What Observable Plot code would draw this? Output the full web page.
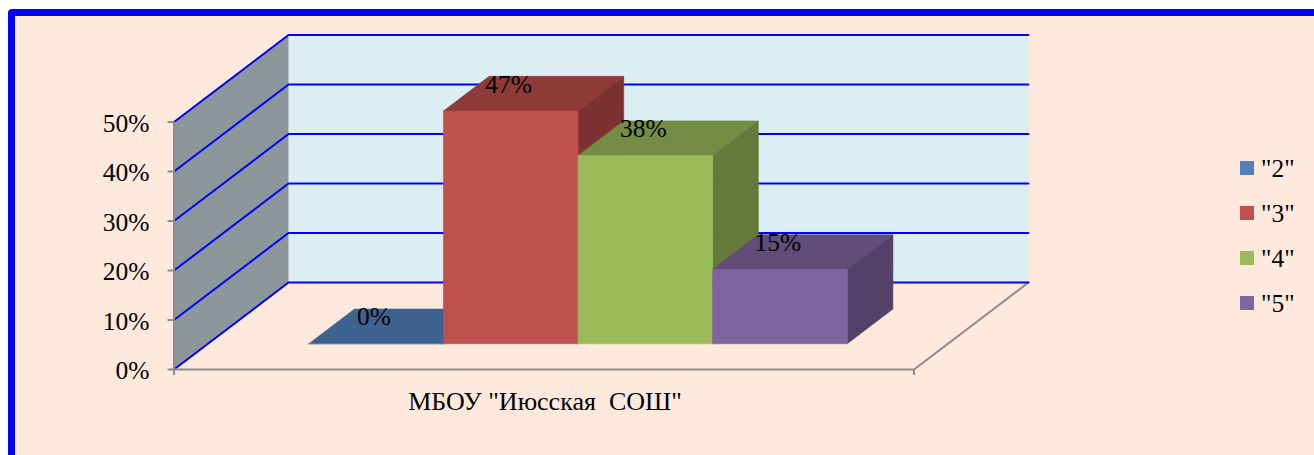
<!DOCTYPE html>
<html>
<head>
<meta charset="utf-8">
<script src="https://cdn.jsdelivr.net/npm/d3@7"></script>
<script src="https://cdn.jsdelivr.net/npm/@observablehq/plot@0.6"></script>
<style>
html,body{margin:0;padding:0;background:#fff;width:1314px;height:455px;overflow:hidden}
#frame{position:absolute;left:8px;top:9px;width:1400px;height:500px;box-sizing:border-box;border:7px solid #0000ff;border-radius:4px;background:#fee9dc}
#chart{position:absolute;left:0;top:0}
#legend{position:absolute;left:1240px;top:146px;font:25.5px "Liberation Serif",serif;color:#000}
#legend div{display:flex;align-items:center;height:45px}
#legend i{display:block;width:14px;height:14px;margin-right:7px;position:relative;top:-1px}
</style>
</head>
<body>
<div id="frame"></div>
<div id="chart"></div>
<div id="legend"></div>
<script>
const category = 'МБОУ "Июсская  СОШ"';
const series = ['"2"', '"3"', '"4"', '"5"'];
const values = [0, 47, 38, 15];
const labels = ["0%", "47%", "38%", "15%"];
const yTicks = [0, 10, 20, 30, 40, 50];
const frontColors = ["#4f81bd", "#c0504d", "#9bbb59", "#8064a2"];
const topColors = ["#3e638f", "#8e3a38", "#748c43", "#614c7a"];
const sideColors = ["#335273", "#7c3230", "#64793a", "#534169"];

// Oblique 3D projection, in data units of the x and y scales
const depthX = 0.1547, depthY = 17.58;
const barStart = 0.1364, barWidth = 0.1819, barFront = 0.296, barBack = 0.695, labelDepth = 0.305;
const project = (x, v, d) => ({x: x + d * depthX, y: v + d * depthY});
const poly = (group, color, pts) => pts.map(([x, v, d]) => ({...project(x, v, d), group, color}));

const wallBack = poly("back", "#dbeef4", [[0,0,1],[1,0,1],[1,50,1],[0,50,1],[0,0,1]]);
const wallSide = poly("side", "#8c979b", [[0,0,0],[0,0,1],[0,50,1],[0,50,0],[0,0,0]]);
const grid = yTicks.flatMap(t => poly("g" + t, "#0000ff", [[0,t,0],[0,t,1],[1,t,1]]));
const floorEdge = poly("edge", "#8c8c8c", [[1,0,0],[1,0,1]]);

const faces = values.flatMap((v, i) => {
  const a = barStart + i * barWidth, b = a + barWidth, f = barFront, k = barBack;
  return [
    ...poly("top" + i, topColors[i], [[a,v,f],[b,v,f],[b,v,k],[a,v,k],[a,v,f]]),
    ...poly("side" + i, sideColors[i], [[b,0,f],[b,0,k],[b,v,k],[b,v,f],[b,0,f]]),
    ...poly("front" + i, frontColors[i], [[a,0,f],[b,0,f],[b,v,f],[a,v,f],[a,0,f]])
  ];
});
const labelRows = values.map((v, i) => {
  const p = project(barStart + (i + 0.5) * barWidth, v, barFront);
  return {x: p.x, y: p.y + labelDepth * depthY, text: labels[i]};
});

const serif = '"Liberation Serif", serif';
const chart = Plot.plot({
  width: 1314, height: 455,
  marginLeft: 173.5, marginRight: 400.5, marginTop: 121.5, marginBottom: 86,
  style: {background: "transparent", fontFamily: serif, fontSize: "25px", color: "#000"},
  x: {domain: [0, 1], range: [173.5, 913.5]},
  y: {domain: [0, 50], range: [369, 121.5]},
  color: {type: "identity"},
  marks: [
    Plot.line([...wallBack, ...wallSide], {x: "x", y: "y", z: "group", fill: "color"}),
    Plot.line(floorEdge, {x: "x", y: "y", stroke: "#8c8c8c", strokeWidth: 2}),
    Plot.line(grid, {x: "x", y: "y", z: "group", stroke: "#0000ff", strokeWidth: 2}),
    Plot.ruleX([0], {y1: 0, y2: 50, stroke: "#8c8c8c", strokeWidth: 2}),
    Plot.ruleY([0], {x1: 0, x2: 1, stroke: "#8c8c8c", strokeWidth: 2}),
    Plot.axisY({ticks: yTicks, tickFormat: () => "", tickSize: 6, strokeWidth: 2, stroke: "#8c8c8c", label: null}),
    Plot.axisY({ticks: yTicks, tickFormat: d => d + "%", tickSize: 0, tickPadding: 24.5, dy: 1.5, fill: "#000", label: null, fontSize: 25.5, fontFamily: serif}),
    Plot.axisX({ticks: [0, 1], tickFormat: () => "", tickSize: 6, strokeWidth: 2, stroke: "#8c8c8c", label: null}),
    Plot.line(faces, {x: "x", y: "y", z: "group", fill: "color", stroke: "color", strokeWidth: 0.6}),
    Plot.text(labelRows, {x: "x", y: "y", text: "text", dx: -2, fill: "#000", fontSize: 25.5, fontFamily: serif}),
    Plot.text([category], {x: [0.5], y: [0], text: d => d, dx: 1, dy: 32, fill: "#000", fontSize: 26, fontFamily: serif, lineAnchor: "middle"})
  ]
});
document.getElementById("chart").append(chart);
const legend = document.getElementById("legend");
series.forEach((s, i) => {
  const row = document.createElement("div");
  const sw = document.createElement("i");
  sw.style.background = frontColors[i];
  row.append(sw, s);
  legend.append(row);
});
</script>
</body>
</html>
